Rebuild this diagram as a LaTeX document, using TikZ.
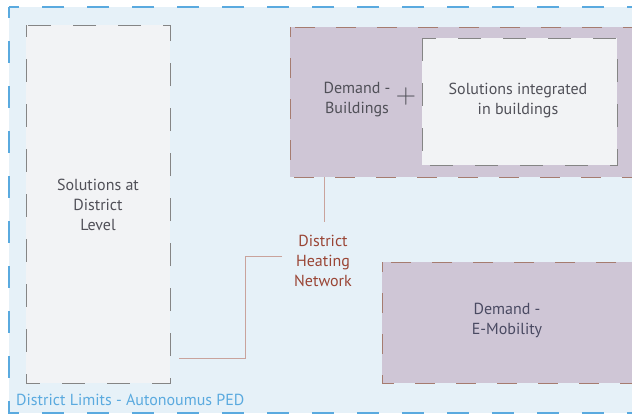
\documentclass[tikz,border=0pt]{standalone}
\usepackage{fontspec}
\setmainfont{PT Sans}
\newfontfamily\plainplus{Latin Modern Roman}
\definecolor{skyfill}{HTML}{E6F1F8}
\definecolor{skyline}{HTML}{5AAADF}
\definecolor{paper}{HTML}{F2F3F5}
\definecolor{mauve}{HTML}{CFC6D6}
\definecolor{rustline}{HTML}{A67C70}
\definecolor{greyline}{HTML}{858585}
\definecolor{heat}{HTML}{9A4535}
\definecolor{pipe}{HTML}{C9A39C}
\definecolor{txt}{HTML}{505058}
\definecolor{mobtxt}{HTML}{4A4A62}
\tikzset{
  lbl/.style={font=\fontsize{16}{20}\selectfont, align=center, text=txt},
  solbox/.style={draw=greyline, fill=paper, line width=1pt, dash pattern=on 23pt off 22pt, dash phase=11pt, inner sep=0pt},
  dembox/.style={draw=rustline, fill=mauve, line width=1pt, dash pattern=on 20pt off 21pt, dash phase=10pt, inner sep=0pt},
  pipeline/.style={draw=pipe, line width=0.9pt}
}
\begin{document}
\begin{tikzpicture}[x=1pt,y=-1pt]
\useasboundingbox (0,0) rectangle (632,415);
\fill[white] (0,0) rectangle (632,415);
\begin{scope}
\clip (0,0) rectangle (632,415);
% district boundary
\draw[fill=skyfill, draw=skyline, line width=1.4pt, dash pattern=on 22pt off 23pt, dash phase=11pt]
  (9,7) rectangle (660,413);
% district-level solutions
\draw[solbox] (26,25) rectangle (170,383);
\node[lbl] (dsl) at (98,205) {Solutions at\\District\\Level};
% buildings demand with integrated solutions
\draw[dembox] (290,27) rectangle (660,177);
\draw[solbox, dash phase=0pt] (422,38) rectangle (617,165);
\node[lbl] (dbld) at (357,100) {Demand -\\Buildings};
\node[lbl, font=\plainplus\fontsize{28}{28}\selectfont] (plus) at (406,97) {+};
\node[lbl] (sib) at (518,100) {Solutions integrated\\in buildings};
% e-mobility demand
\draw[dembox] (382,262) rectangle (660,383);
\node[lbl, text=mobtxt] (dem) at (507,320) {Demand -\\E-Mobility};
% district heating network
\node[lbl, text=heat] (dhn) at (323,261) {District\\Heating\\Network};
\coordinate (bldfoot) at (324,177);
\coordinate (dhntop) at (324,222);
\coordinate (dhnleft) at (282,256);
\coordinate (dslright) at (179,358);
\draw[pipeline] (bldfoot) -- (dhntop);
\draw[pipeline] (dhnleft) -- (245,256) -- (245,358) -- (dslright);
% boundary caption
\node[font=\fontsize{16}{18}\selectfont, text=skyline, anchor=west, inner sep=0pt] (cap) at (16,400) {District Limits - Autonoumus PED};
\end{scope}
\end{tikzpicture}
\end{document}
